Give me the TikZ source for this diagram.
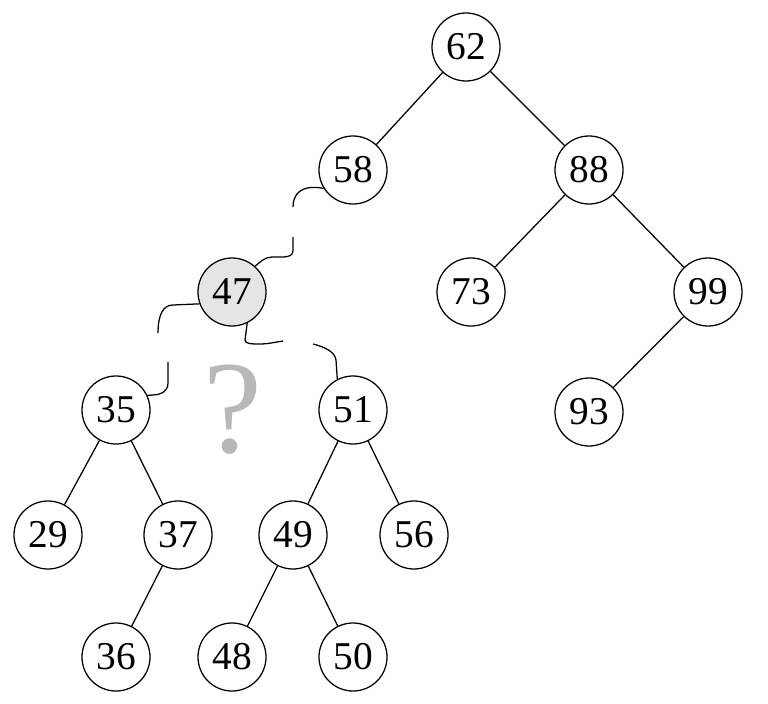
\documentclass[tikz,border=0pt]{standalone}
\usepackage{fontspec}
\setmainfont{Liberation Serif}
\usetikzlibrary{calc}

\begin{document}
\begin{tikzpicture}[x=0.025cm, y=-0.025cm, line width=0.9pt,
  key/.style={draw, circle, minimum size=1.7cm, inner sep=0pt, font=\fontsize{28}{30}\selectfont},
  hit/.style={key, fill=black!10}]
  \useasboundingbox (0,0) rectangle (768,703);
  % keys
  \node[key] (n62) at (466,47) {62};
  \node[key] (n58) at (353,170) {58};
  \node[key] (n88) at (589,170) {88};
  \node[hit] (n47) at (232,292) {47};
  \node[key] (n73) at (471,292) {73};
  \node[key] (n99) at (708,292) {99};
  \node[key] (n35) at (116,410) {35};
  \node[key] (n51) at (353,410) {51};
  \node[key] (n93) at (589,412) {93};
  \node[key] (n29) at (48,535) {29};
  \node[key] (n37) at (178,535) {37};
  \node[key] (n49) at (293,535) {49};
  \node[key] (n56) at (414,535) {56};
  \node[key] (n36) at (116,657) {36};
  \node[key] (n48) at (232,657) {48};
  \node[key] (n50) at (353,657) {50};
  \node[text=black!28, font=\fontsize{94}{96}\selectfont] (ask) at (233,410) {?};
  % links
  \draw (n62) -- (n58);
  \draw (n62) -- (n88);
  \draw (n88) -- (n73);
  \draw (n88) -- (n99);
  \draw (n99) -- (n93);
  \draw (n35) -- (n29);
  \draw (n35) -- (n37);
  \draw (n37) -- (n36);
  \draw (n51) -- (n49);
  \draw (n51) -- (n56);
  \draw (n49) -- (n48);
  \draw (n49) -- (n50);
  % cut links
  \coordinate (c1) at (293,207);
  \coordinate (c2) at (293,237);
  \coordinate (c3) at (158,333);
  \coordinate (c4) at (168,362);
  \coordinate (c5) at (283,341);
  \coordinate (c6) at (313,344);
  \draw (n58.212) .. controls (300,184) and (293,195) .. (c1);
  \draw (c2) -- (293,250) .. controls (293,258) and (285,257) .. (272,257)
    .. controls (265,257) and (260,262) .. (n47.48);
  \draw (n47.200) -- (173,305) .. controls (163,305) and (158,315) .. (c3);
  \draw (c4) -- (168,383) .. controls (168,392) and (160,395) .. (153,395) -- (n35.25);
  \draw (n47.-64) -- (245,340) .. controls (245,344) and (252,344) .. (260,344)
    .. controls (268,344) and (276,342) .. (c5);
  \draw (c6) .. controls (325,347) and (335,352) .. (336,360) -- (n51.117);
\end{tikzpicture}
\end{document}
